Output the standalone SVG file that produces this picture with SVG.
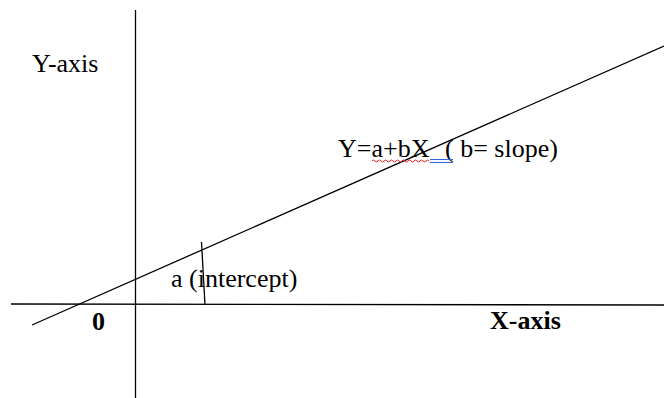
<svg xmlns="http://www.w3.org/2000/svg" width="664" height="398" viewBox="0 0 664 398">
<style>
.ln{stroke:#000;stroke-width:1.3;fill:none}
.t{font-family:"Liberation Serif","Times New Roman",serif;font-size:26px;fill:#000}
.b{font-weight:bold}
</style>
<rect width="664" height="398" fill="#fff"/>
<g id="connectors">
<line id="y-axis" class="ln" x1="135.5" y1="10" x2="135.5" y2="398"/>
<line id="x-axis" class="ln" x1="11" y1="304" x2="664" y2="305"/>
<line id="regression" class="ln" x1="32" y1="325" x2="664" y2="46"/>
<line id="intercept-tick" class="ln" x1="201.5" y1="242" x2="205" y2="305"/>
</g>
<g id="label-yaxis"><text class="t" x="32" y="72">Y-axis</text></g>
<g id="label-xaxis"><text class="t b" x="490" y="329">X-axis</text></g>
<g id="label-zero"><text class="t b" x="92" y="330">0</text></g>
<g id="label-intercept"><text class="t" x="171" y="287">a (intercept)</text></g>
<g id="label-equation">
<text class="t" x="338" y="157">Y=a+bX<tspan x="445">( b= slope)</tspan></text>
<path d="M372 161 q1.5 -2 3 0 t3 0 t3 0 t3 0 t3 0 t3 0 t3 0 t3 0 t3 0 t3 0 t3 0 t3 0 t3 0 t3 0 t3 0 t3 0 t3 0 t3 0 t3 0" stroke="#e02020" stroke-width="1" fill="none"/>
<line x1="430" y1="159.5" x2="453" y2="159.5" stroke="#3366dd" stroke-width="1"/>
<line x1="430" y1="162.5" x2="453" y2="162.5" stroke="#3366dd" stroke-width="1"/>
</g>
</svg>
